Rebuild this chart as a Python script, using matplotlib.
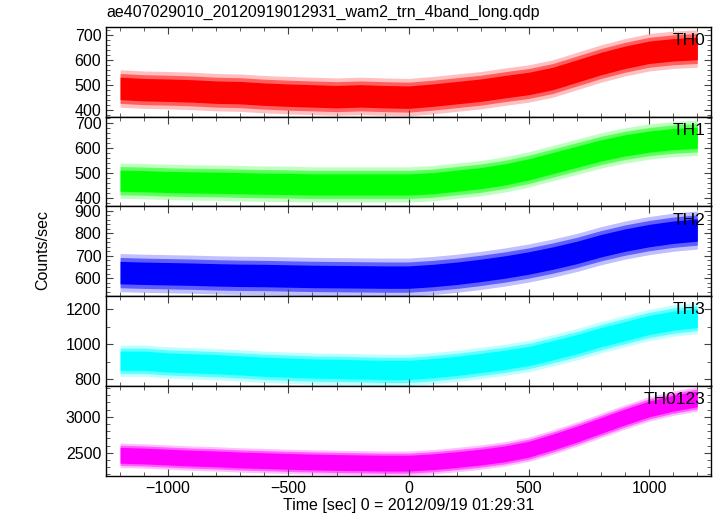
import numpy as np
import matplotlib
matplotlib.use("Agg")
import matplotlib.pyplot as plt
from matplotlib.ticker import MultipleLocator

plt.rcParams['font.family'] = ['Liberation Sans', 'DejaVu Sans']

# time grid (sec), one value every 100 s
t = np.arange(-1200, 1201, 100)

# band centres (counts/sec)
th0 = [485, 480, 478, 475, 470, 468, 462, 458, 455, 452, 455, 452, 450,
       458, 468, 478, 492, 505, 525, 555, 585, 610, 630, 640, 645]
th1 = [470, 468, 465, 463, 462, 460, 458, 457, 455, 455, 455, 455, 455,
       460, 470, 480, 495, 515, 540, 565, 590, 610, 625, 635, 640]
th2 = [625, 622, 620, 618, 615, 613, 612, 610, 608, 607, 606, 605, 605,
       612, 622, 635, 650, 668, 690, 715, 745, 770, 790, 805, 815]
th3 = [905, 905, 895, 890, 885, 878, 870, 865, 860, 858, 855, 852, 852,
       862, 875, 892, 910, 932, 965, 1000, 1040, 1075, 1110, 1135, 1150]
th0123 = [2465, 2455, 2440, 2425, 2415, 2400, 2390, 2380, 2372, 2365, 2360, 2355, 2355,
          2375, 2405, 2440, 2485, 2550, 2650, 2760, 2880, 3000, 3110, 3190, 3250]

# half widths of the dense core and of the spikes
core = [45, 42, 50, 55, 110]
spike = [75, 70, 85, 90, 170]

names = ["TH0", "TH1", "TH2", "TH3", "TH0123"]
series = [th0, th1, th2, th3, th0123]
colors = ["#ff0000", "#00ff00", "#0000ff", "#00ffff", "#ff00ff"]
ylims = [(372, 732), (368, 724), (520, 920), (760, 1275), (2180, 3430)]
majors = [100, 100, 100, 200, 500]
minors = [20, 20, 20, 100, 100]

fig, axes = plt.subplots(5, 1, sharex=True, figsize=(7.17, 5.16), dpi=100)
fig.subplots_adjust(left=0.148, right=0.992, top=0.948, bottom=0.078, hspace=0)

for i, ax in enumerate(axes):
    y = np.array(series[i], dtype=float)
    mid = (core[i] + spike[i]) / 2
    ax.fill_between(t, y - spike[i], y + spike[i], color=colors[i], alpha=0.25, lw=0)
    ax.fill_between(t, y - mid, y + mid, color=colors[i], alpha=0.5, lw=0)
    ax.fill_between(t, y - core[i], y + core[i], color=colors[i], lw=0)
    ax.set_ylim(*ylims[i])
    ax.set_xlim(-1258, 1258)
    ax.yaxis.set_major_locator(MultipleLocator(majors[i]))
    ax.yaxis.set_minor_locator(MultipleLocator(minors[i]))
    ax.xaxis.set_major_locator(MultipleLocator(500))
    ax.xaxis.set_minor_locator(MultipleLocator(100))
    ax.tick_params(which='both', direction='in', top=True, right=True,
                   labelsize=11.5, color='#444444')
    ax.tick_params(which='major', length=5)
    ax.tick_params(which='minor', length=3)
    for s in ax.spines.values():
        s.set_linewidth(1.0)
    ax.text(0.99, 0.93, names[i], transform=ax.transAxes, ha='right', va='top',
            fontsize=12.5)

axes[-1].set_xlabel("Time [sec] 0 = 2012/09/19 01:29:31", fontsize=11.5, labelpad=2)
fig.text(0.06, 0.515, "Counts/sec", rotation=90, ha='center', va='center', fontsize=11.5)
fig.text(0.149, 0.975, "ae407029010_20120919012931_wam2_trn_4band_long.qdp",
         ha='left', va='center', fontsize=11.5)

plt.savefig("out.png", dpi=100)
